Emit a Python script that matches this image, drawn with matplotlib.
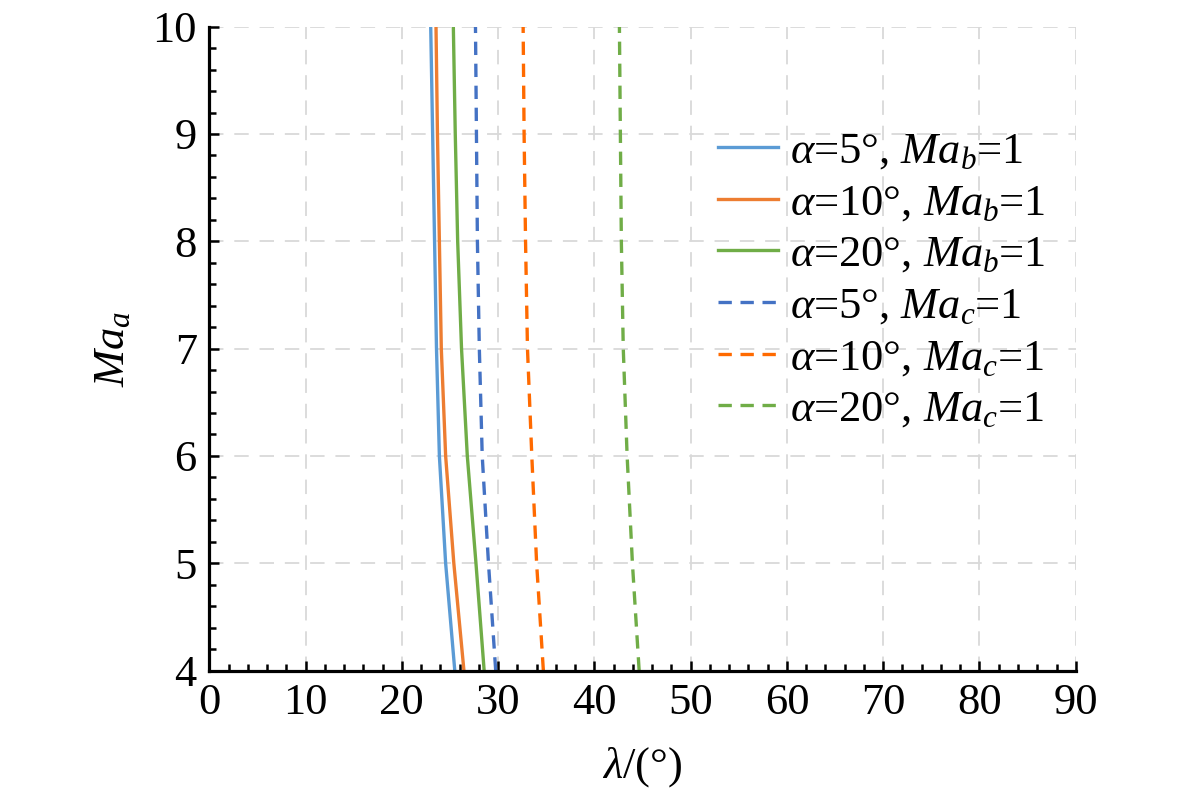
import numpy as np
import matplotlib
matplotlib.use('Agg')
import matplotlib.pyplot as plt
from matplotlib.ticker import MultipleLocator

plt.rcParams['font.family'] = ['Liberation Serif', 'DejaVu Serif']
plt.rcParams['mathtext.fontset'] = 'custom'
plt.rcParams['mathtext.rm'] = 'Liberation Serif'
plt.rcParams['mathtext.it'] = 'Liberation Serif:italic'

# Ma_a values (y) and the lambda values (x)
ma_a = [4, 5, 6, 7, 8, 9, 10]

lam_b5 = [25.5, 24.55, 23.9, 23.6, 23.4, 23.2, 23.0]
lam_b10 = [26.45, 25.4, 24.55, 24.1, 23.9, 23.7, 23.55]
lam_b20 = [28.55, 27.7, 26.8, 26.2, 25.8, 25.55, 25.35]
lam_c5 = [29.75, 29.0, 28.35, 28.05, 27.85, 27.75, 27.65]
lam_c10 = [34.7, 34.0, 33.5, 33.05, 32.85, 32.7, 32.6]
lam_c20 = [44.65, 43.95, 43.4, 43.0, 42.8, 42.7, 42.6]

labels = [r'$\alpha$=5°, $Ma_b$=1', r'$\alpha$=10°, $Ma_b$=1', r'$\alpha$=20°, $Ma_b$=1',
          r'$\alpha$=5°, $Ma_c$=1', r'$\alpha$=10°, $Ma_c$=1', r'$\alpha$=20°, $Ma_c$=1']

fs = 32
dash = (0, (4, 2.6))

fig = plt.figure(figsize=(11.81, 7.94), dpi=100)
ax = fig.add_axes([0.1772, 0.1555, 0.7337, 0.8109])

ax.plot(lam_b5, ma_a, color='#5B9BD5', lw=2.4, label=labels[0])
ax.plot(lam_b10, ma_a, color='#ED7D31', lw=2.4, label=labels[1])
ax.plot(lam_b20, ma_a, color='#70AD47', lw=2.4, label=labels[2])
ax.plot(lam_c5, ma_a, color='#4472C4', lw=2.4, ls=dash, label=labels[3])
ax.plot(lam_c10, ma_a, color='#FF6A00', lw=2.4, ls=dash, label=labels[4])
ax.plot(lam_c20, ma_a, color='#70AD47', lw=2.4, ls=dash, label=labels[5])

ax.set_xlim(0, 90)
ax.set_ylim(4, 10)
ax.xaxis.set_major_locator(MultipleLocator(10))
ax.xaxis.set_minor_locator(MultipleLocator(2))
ax.yaxis.set_major_locator(MultipleLocator(1))
ax.yaxis.set_minor_locator(MultipleLocator(0.2))

# grid lines (dashed light gray), no top/right spines
ax.grid(True, which='major', color='#D9D9D9', ls=(0, (8, 6)), lw=1.3)
ax.set_axisbelow(True)
for s in ['top', 'right']:
    ax.spines[s].set_visible(False)
for s in ['left', 'bottom']:
    ax.spines[s].set_linewidth(2.3)

ax.tick_params(which='both', direction='in', width=1.8, labelsize=fs, pad=9)
ax.tick_params(which='major', length=7)
ax.tick_params(which='minor', length=5)

ax.set_xlabel(r'$\lambda$/(°)', fontsize=fs, labelpad=16)
ax.set_ylabel(r'$Ma_a$', fontsize=fs, labelpad=14)

ax.legend(loc='upper left', bbox_to_anchor=(0.593, 0.857), bbox_transform=fig.transFigure,
          frameon=False, fontsize=fs, handlelength=1.35, handletextpad=0.27,
          labelspacing=0.26, borderaxespad=0)

fig.savefig('out.png', dpi=100)
